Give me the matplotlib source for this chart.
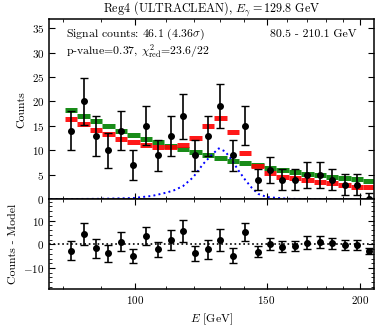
import numpy as np
import matplotlib
matplotlib.use("Agg")
import matplotlib.pyplot as plt
from matplotlib.ticker import FixedLocator, NullFormatter, ScalarFormatter, MultipleLocator

plt.rcParams["font.family"] = "serif"
plt.rcParams["font.serif"] = ["cmr10", "DejaVu Serif"]
plt.rcParams["mathtext.fontset"] = "cm"
plt.rcParams["axes.formatter.use_mathtext"] = True
plt.rcParams["font.size"] = 8

# energy range and binning of the fit
e_lo, e_hi, n_bins = 80.5, 210.1, 25

counts = [14, 20, 13, 10, 14, 7, 15, 9, 13, 17, 9, 13, 19, 9, 15,
          4, 6, 4, 4, 5, 5, 4, 3, 3, 0]
count_err = [4.0, 4.8, 4.1, 3.5, 4.0, 3.0, 4.0, 3.2, 4.1, 4.6, 3.2, 4.1, 4.5, 3.2, 4.0,
             2.2, 2.7, 2.2, 2.2, 2.6, 2.6, 2.2, 2.2, 2.2, 1.2]
model_line = [16.5, 15.4, 14.25, 13.3, 12.4, 11.7, 11.05, 10.7, 10.7, 11.05, 12.45, 14.9, 16.7,
              13.7, 9.5, 6.85, 5.4, 4.6, 4.3, 3.95, 3.6, 3.3, 2.9, 2.6, 2.45]
model_bkg = [18.2, 17.1, 16.0, 15.0, 14.0, 13.2, 12.35, 11.7, 10.9, 10.25, 9.6, 9.0, 8.4,
             7.85, 7.45, 6.95, 6.5, 6.0, 5.65, 5.2, 5.0, 4.6, 4.3, 4.1, 3.8]
residuals = [-2.8, 4.3, -1.7, -3.8, 1.1, -4.9, 3.5, -2.1, 1.8, 5.6, -3.8, -2.1, 1.8,
             -4.9, 5.2, -3.1, 0.1, -1.0, -0.7, 0.7, 1.1, 0.4, -0.3, -0.3, -2.8]

# signal line shape (blue dotted)
line_e = [77.0, 80.5, 89.7, 99.4, 105.4, 109.0, 112.4, 115.9, 119.6, 123.3, 126.7, 129.4,
          132.0, 134.8, 137.4, 140.4, 143.4, 146.2, 150.3, 160.4, 175.0, 209.0]
line_y = [0.05, 0.05, 0.1, 0.25, 0.7, 1.2, 1.75, 2.7, 4.5, 7.2, 9.1, 10.4,
          9.8, 8.0, 6.0, 4.0, 2.3, 1.1, 0.45, 0.1, 0.03, 0.0]

edges = np.geomspace(e_lo, e_hi, n_bins + 1)
centers = np.sqrt(edges[:-1] * edges[1:])

fig = plt.figure(figsize=(3.82, 3.34), dpi=100)
ax1 = fig.add_axes([0.129, 0.4033, 0.850, 0.5389])
ax2 = fig.add_axes([0.129, 0.1338, 0.850, 0.2695], sharex=ax1)

ax1.hlines(model_bkg, edges[:-1], edges[1:], color="green", lw=3.6, alpha=0.9)
ax1.hlines(model_line, edges[:-1], edges[1:], color="red", lw=3.6, alpha=0.9)
ax1.plot(line_e, line_y, ":", color="blue", lw=1.4)
ax1.errorbar(centers, counts, yerr=count_err, fmt="o", color="black", ms=4,
             elinewidth=1.2, capsize=3, capthick=1.0)

ax2.axhline(0, color="black", ls=":", lw=1.2)
ax2.errorbar(centers, residuals, yerr=count_err, fmt="o", color="black", ms=4,
             elinewidth=1.2, capsize=3, capthick=1.0)

for ax in (ax1, ax2):
    ax.set_xscale("log")
    ax.tick_params(which="both", direction="in", top=True, right=True, labelsize=8)
    ax.tick_params(which="major", length=4, width=0.8)
    ax.tick_params(which="minor", length=2, width=0.6)
    for s in ax.spines.values():
        s.set_linewidth(1.1)

ax1.set_xlim(76.7, 209.0)
ax1.xaxis.set_major_locator(FixedLocator([100, 150, 200]))
ax1.xaxis.set_minor_locator(FixedLocator([70, 80, 90, 110, 120, 130, 140, 160, 170, 180, 190]))
ax1.xaxis.set_major_formatter(ScalarFormatter())
ax1.xaxis.set_minor_formatter(NullFormatter())
plt.setp(ax1.get_xticklabels(), visible=False)

ax1.set_ylim(0, 36.8)
ax1.yaxis.set_major_locator(MultipleLocator(5))
ax1.yaxis.set_minor_locator(FixedLocator([]))
ax1.set_ylabel("Counts", fontsize=8.5)

ax2.set_ylim(-19, 19)
ax2.yaxis.set_major_locator(MultipleLocator(10))
ax2.yaxis.set_minor_locator(MultipleLocator(2))
ax2.set_ylabel("Counts - Model", fontsize=8.5)
ax2.set_xlabel(r"$E$ [GeV]", fontsize=8.5)

ax1.set_title(r"Reg4 (ULTRACLEAN), $E_\gamma=$129.8 GeV", fontsize=8.7, pad=4)
ax1.text(0.05, 0.918, r"Signal counts: 46.1 (4.36$\sigma$)", transform=ax1.transAxes,
         va="center", ha="left", fontsize=8.5)
ax1.text(0.05, 0.817, r"p-value=0.37, $\chi^2_{\rm red}$=23.6/22", transform=ax1.transAxes,
         va="center", ha="left", fontsize=8.5)
ax1.text(0.947, 0.918, "80.5 - 210.1 GeV", transform=ax1.transAxes,
         va="center", ha="right", fontsize=8.5)

fig.savefig("out.png", dpi=100)
